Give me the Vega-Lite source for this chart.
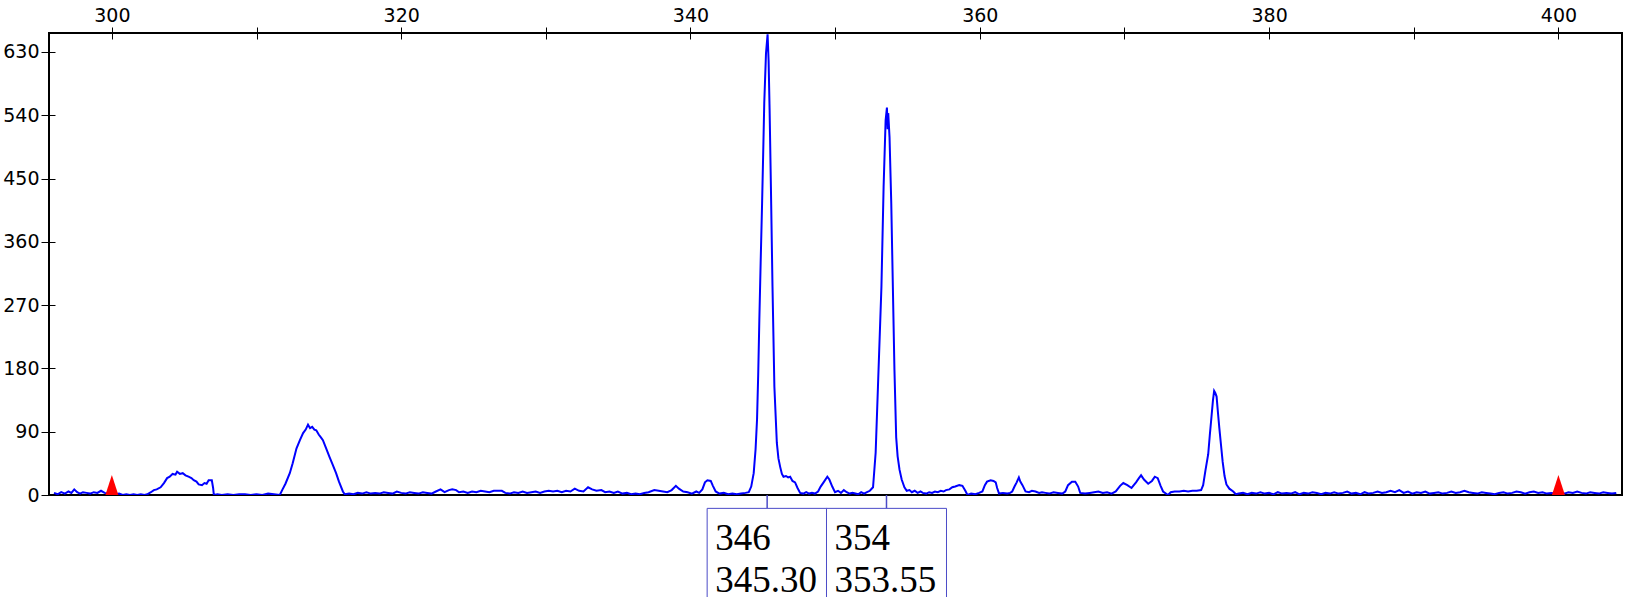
{
  "$schema": "https://vega.github.io/schema/vega-lite/v6.json",
  "width": 1573,
  "height": 462,
  "autosize": "none",
  "padding": {"left": 49, "top": 33, "right": 11, "bottom": 102},
  "background": "white",
  "config": {
    "view": {"stroke": "black", "strokeWidth": 2},
    "axis": {"grid": false, "domain": false, "labelFont": "DejaVu Sans", "labelFontSize": 19, "labelColor": "black", "labelFlush": false, "labelOverlap": false, "title": null}
  },
  "datasets": {
    "trace": [
      {"x":296.0,"y":3},{"x":296.25,"y":1},{"x":296.5,"y":4},{"x":296.75,"y":2},{"x":297.0,"y":5},{"x":297.2,"y":3},{"x":297.4,"y":8},{"x":297.6,"y":4},{"x":297.8,"y":2},{"x":298.0,"y":4},{"x":298.25,"y":3},{"x":298.5,"y":2},{"x":298.75,"y":4},{"x":299.0,"y":3},{"x":299.25,"y":6},{"x":299.5,"y":3},{"x":299.75,"y":2},{"x":300.0,"y":3},{"x":300.25,"y":1},{"x":300.5,"y":2},{"x":300.75,"y":0},{"x":301.0,"y":1},{"x":301.25,"y":0},{"x":301.5,"y":1},{"x":301.75,"y":0},{"x":302.0,"y":1},{"x":302.25,"y":0},{"x":302.45,"y":1},
      {"x":302.7,"y":4},{"x":302.9,"y":7},{"x":303.1,"y":8},{"x":303.37,"y":11},{"x":303.6,"y":17},{"x":303.82,"y":24},{"x":304.0,"y":26},{"x":304.2,"y":30},{"x":304.4,"y":29},{"x":304.51,"y":33},{"x":304.7,"y":30},{"x":304.9,"y":31},{"x":305.09,"y":28},{"x":305.3,"y":26},{"x":305.5,"y":24},{"x":305.66,"y":21},{"x":305.85,"y":19},{"x":306.0,"y":15},{"x":306.23,"y":14},{"x":306.4,"y":17},{"x":306.55,"y":16},{"x":306.69,"y":21},{"x":306.91,"y":21},{"x":307.0,"y":10},{"x":307.05,"y":0},{"x":307.3,"y":1},{"x":307.6,"y":0},{"x":308.0,"y":1},{"x":308.4,"y":0},{"x":308.8,"y":1},{"x":309.2,"y":1},{"x":309.6,"y":0},{"x":310.0,"y":1},{"x":310.4,"y":0},{"x":310.8,"y":2},{"x":311.2,"y":1},{"x":311.61,"y":0},
      {"x":311.8,"y":8},{"x":312.0,"y":16},{"x":312.3,"y":31},{"x":312.5,"y":45},{"x":312.76,"y":66},{"x":313.0,"y":78},{"x":313.22,"y":88},{"x":313.4,"y":93},{"x":313.56,"y":100},{"x":313.7,"y":95},{"x":313.85,"y":97},{"x":314.0,"y":93},{"x":314.13,"y":92},{"x":314.3,"y":86},{"x":314.45,"y":82},{"x":314.59,"y":78},{"x":314.8,"y":67},{"x":315.05,"y":54},{"x":315.25,"y":44},{"x":315.5,"y":31},{"x":315.7,"y":19},{"x":315.97,"y":5},{"x":316.1,"y":1},{"x":316.4,"y":2},{"x":316.7,"y":1},{"x":317.0,"y":3},{"x":317.3,"y":2},{"x":317.6,"y":4},{"x":317.9,"y":2},{"x":318.2,"y":3},{"x":318.5,"y":2},{"x":318.8,"y":4},{"x":319.1,"y":3},{"x":319.4,"y":2},{"x":319.7,"y":5},{"x":320.0,"y":3},{"x":320.3,"y":2},{"x":320.6,"y":4},{"x":320.9,"y":3},{"x":321.2,"y":2},{"x":321.5,"y":4},{"x":321.8,"y":3},
      {"x":322.1,"y":2},{"x":322.4,"y":5},{"x":322.72,"y":8},{"x":323.0,"y":4},{"x":323.3,"y":7},{"x":323.53,"y":8},{"x":323.8,"y":7},{"x":324.0,"y":4},{"x":324.3,"y":5},{"x":324.6,"y":3},{"x":324.9,"y":5},{"x":325.2,"y":4},{"x":325.5,"y":6},{"x":325.8,"y":5},{"x":326.1,"y":4},{"x":326.4,"y":6},{"x":326.7,"y":6},{"x":326.96,"y":6},{"x":327.2,"y":3},{"x":327.5,"y":2},{"x":327.8,"y":4},{"x":328.1,"y":3},{"x":328.4,"y":5},{"x":328.7,"y":3},{"x":329.0,"y":4},{"x":329.3,"y":5},{"x":329.6,"y":3},{"x":329.9,"y":5},{"x":330.2,"y":6},{"x":330.5,"y":5},{"x":330.8,"y":6},{"x":331.1,"y":4},{"x":331.4,"y":6},{"x":331.7,"y":5},{"x":332.0,"y":9},{"x":332.3,"y":6},{"x":332.6,"y":5},{"x":332.92,"y":11},{"x":333.2,"y":8},{"x":333.5,"y":6},{"x":333.84,"y":7},{"x":334.1,"y":4},{"x":334.4,"y":5},{"x":334.7,"y":3},{"x":334.98,"y":5},{"x":335.3,"y":2},{"x":335.6,"y":3},{"x":335.9,"y":1},{"x":336.2,"y":2},{"x":336.5,"y":1},{"x":336.8,"y":3},{"x":337.1,"y":4},{"x":337.5,"y":7},{"x":337.8,"y":6},{"x":338.1,"y":5},{"x":338.4,"y":4},{"x":338.7,"y":7},{"x":338.99,"y":13},{"x":339.2,"y":9},{"x":339.5,"y":5},{"x":339.8,"y":4},{"x":340.1,"y":2},{"x":340.4,"y":5},{"x":340.6,"y":3},{"x":340.82,"y":8},{"x":341.0,"y":18},{"x":341.17,"y":21},{"x":341.4,"y":20},{"x":341.55,"y":13},{"x":341.74,"y":5},{"x":342.0,"y":2},{"x":342.3,"y":3},{"x":342.6,"y":1},{"x":342.9,"y":2},{"x":343.2,"y":1},{"x":343.5,"y":2},{"x":343.8,"y":3},{"x":344.03,"y":4},
      {"x":344.2,"y":12},{"x":344.37,"y":31},{"x":344.5,"y":65},{"x":344.6,"y":107},{"x":344.68,"y":170},{"x":344.76,"y":249},{"x":344.85,"y":330},{"x":344.95,"y":415},{"x":345.02,"y":480},{"x":345.1,"y":557},{"x":345.22,"y":628},{"x":345.33,"y":655},{"x":345.4,"y":618},{"x":345.47,"y":547},{"x":345.56,"y":438},{"x":345.67,"y":296},{"x":345.8,"y":154},{"x":345.97,"y":74},{"x":346.08,"y":52},{"x":346.2,"y":40},{"x":346.32,"y":30},{"x":346.43,"y":26},{"x":346.6,"y":27},{"x":346.75,"y":25},{"x":346.89,"y":26},{"x":347.05,"y":20},{"x":347.23,"y":18},{"x":347.4,"y":10},{"x":347.58,"y":3},{"x":347.8,"y":2},{"x":348.0,"y":4},{"x":348.2,"y":2},{"x":348.4,"y":3},{"x":348.6,"y":2},{"x":348.82,"y":5},{"x":349.0,"y":12},{"x":349.2,"y":18},{"x":349.46,"y":26},{"x":349.6,"y":22},{"x":349.8,"y":12},{"x":349.99,"y":4},{"x":350.2,"y":6},{"x":350.4,"y":3},{"x":350.6,"y":7},{"x":350.8,"y":4},{"x":351.0,"y":2},{"x":351.2,"y":3},{"x":351.4,"y":2},{"x":351.6,"y":1},{"x":351.8,"y":4},{"x":352.0,"y":2},{"x":352.2,"y":4},{"x":352.4,"y":6},{"x":352.62,"y":11},
      {"x":352.8,"y":60},{"x":352.96,"y":154},{"x":353.08,"y":225},{"x":353.2,"y":296},{"x":353.35,"y":438},{"x":353.49,"y":533},{"x":353.58,"y":551},{"x":353.63,"y":520},{"x":353.67,"y":543},{"x":353.76,"y":509},{"x":353.88,"y":415},{"x":353.99,"y":296},{"x":354.1,"y":178},{"x":354.22,"y":82},{"x":354.32,"y":55},{"x":354.45,"y":36},{"x":354.6,"y":22},{"x":354.79,"y":11},{"x":354.95,"y":6},{"x":355.14,"y":7},{"x":355.3,"y":4},{"x":355.5,"y":6},{"x":355.7,"y":3},{"x":355.9,"y":5},{"x":356.06,"y":3},{"x":356.3,"y":2},{"x":356.5,"y":4},{"x":356.7,"y":3},{"x":356.9,"y":5},{"x":357.1,"y":4},{"x":357.3,"y":6},{"x":357.5,"y":5},{"x":357.66,"y":7},{"x":357.9,"y":8},{"x":358.1,"y":11},{"x":358.3,"y":12},{"x":358.58,"y":14},{"x":358.8,"y":13},{"x":359.0,"y":6},{"x":359.15,"y":0},{"x":359.4,"y":2},{"x":359.7,"y":1},{"x":359.95,"y":3},{"x":360.18,"y":5},{"x":360.35,"y":14},{"x":360.5,"y":19},{"x":360.75,"y":21},{"x":360.95,"y":20},{"x":361.1,"y":18},{"x":361.2,"y":10},{"x":361.33,"y":2},{"x":361.6,"y":3},{"x":361.9,"y":2},{"x":362.1,"y":3},{"x":362.24,"y":5},{"x":362.4,"y":12},{"x":362.55,"y":18},{"x":362.7,"y":25},{"x":362.8,"y":19},{"x":362.95,"y":14},{"x":363.16,"y":5},{"x":363.4,"y":4},{"x":363.6,"y":6},{"x":363.85,"y":5},{"x":364.1,"y":3},{"x":364.3,"y":4},{"x":364.54,"y":3},{"x":364.8,"y":2},{"x":365.1,"y":4},{"x":365.4,"y":3},{"x":365.7,"y":2},{"x":365.91,"y":5},{"x":366.1,"y":14},{"x":366.37,"y":19},{"x":366.6,"y":19},{"x":366.8,"y":12},{"x":366.94,"y":3},{"x":367.28,"y":2},{"x":367.6,"y":3},{"x":367.9,"y":4},{"x":368.2,"y":5},{"x":368.5,"y":3},{"x":368.8,"y":4},{"x":369.11,"y":2},{"x":369.4,"y":5},{"x":369.7,"y":13},{"x":369.92,"y":17},{"x":370.2,"y":14},{"x":370.49,"y":10},{"x":370.8,"y":18},{"x":371.0,"y":24},{"x":371.15,"y":28},{"x":371.35,"y":22},{"x":371.64,"y":16},{"x":371.9,"y":20},{"x":372.1,"y":26},{"x":372.3,"y":24},{"x":372.5,"y":13},{"x":372.67,"y":5},{"x":373.01,"y":0},{"x":373.2,"y":4},{"x":373.47,"y":5},{"x":373.8,"y":5},{"x":374.1,"y":6},{"x":374.4,"y":5},{"x":374.7,"y":6},{"x":375.0,"y":6},{"x":375.3,"y":7},{"x":375.44,"y":14},
      {"x":375.6,"y":35},{"x":375.79,"y":58},{"x":375.9,"y":85},{"x":376.02,"y":112},{"x":376.12,"y":135},{"x":376.2,"y":148},{"x":376.28,"y":145},{"x":376.37,"y":140},{"x":376.46,"y":118},{"x":376.56,"y":95},{"x":376.68,"y":70},{"x":376.79,"y":47},{"x":376.92,"y":27},{"x":377.05,"y":15},{"x":377.25,"y":9},{"x":377.52,"y":5},{"x":377.7,"y":1},{"x":377.9,"y":2},
      {"x":378.2,"y":3},{"x":378.5,"y":1},{"x":378.8,"y":3},{"x":379.1,"y":2},{"x":379.4,"y":4},{"x":379.7,"y":2},{"x":380.0,"y":3},{"x":380.3,"y":1},{"x":380.6,"y":4},{"x":380.9,"y":2},{"x":381.2,"y":3},{"x":381.5,"y":2},{"x":381.8,"y":4},{"x":382.1,"y":1},{"x":382.4,"y":3},{"x":382.7,"y":2},{"x":383.0,"y":4},{"x":383.3,"y":3},{"x":383.6,"y":1},{"x":383.9,"y":3},{"x":384.2,"y":2},{"x":384.5,"y":4},{"x":384.8,"y":2},{"x":385.1,"y":3},{"x":385.4,"y":5},{"x":385.7,"y":2},{"x":386.0,"y":3},{"x":386.3,"y":1},{"x":386.6,"y":4},{"x":386.9,"y":2},{"x":387.2,"y":3},{"x":387.5,"y":5},{"x":387.8,"y":3},{"x":388.1,"y":4},{"x":388.4,"y":6},{"x":388.7,"y":4},{"x":389.0,"y":7},{"x":389.3,"y":3},{"x":389.6,"y":5},{"x":389.9,"y":2},{"x":390.2,"y":4},{"x":390.5,"y":3},{"x":390.8,"y":5},{"x":391.1,"y":2},{"x":391.4,"y":3},{"x":391.7,"y":4},{"x":392.0,"y":2},{"x":392.3,"y":3},{"x":392.6,"y":5},{"x":392.9,"y":3},{"x":393.2,"y":4},{"x":393.5,"y":6},{"x":393.8,"y":4},{"x":394.1,"y":3},{"x":394.4,"y":2},{"x":394.7,"y":4},{"x":395.0,"y":3},{"x":395.3,"y":2},{"x":395.6,"y":1},{"x":395.9,"y":3},{"x":396.2,"y":4},{"x":396.5,"y":2},{"x":396.8,"y":3},{"x":397.1,"y":5},{"x":397.4,"y":4},{"x":397.7,"y":2},{"x":398.0,"y":4},{"x":398.3,"y":5},{"x":398.6,"y":3},{"x":398.9,"y":4},{"x":399.2,"y":2},{"x":399.5,"y":3},{"x":399.8,"y":2},{"x":400.1,"y":3},{"x":400.4,"y":2},{"x":400.7,"y":4},{"x":401.0,"y":3},{"x":401.3,"y":5},{"x":401.6,"y":3},{"x":401.9,"y":2},{"x":402.2,"y":4},{"x":402.5,"y":3},{"x":402.8,"y":2},{"x":403.1,"y":4},{"x":403.4,"y":3},{"x":403.7,"y":2},{"x":404.0,"y":3}
    ],
    "ladder": [{"x": 300}, {"x": 400}],
    "peaks": [
      {"size": 345.30, "allele": "346", "label": "345.30"},
      {"size": 353.55, "allele": "354", "label": "353.55"}
    ]
  },
  "layer": [
    {
      "data": {"name": "trace"},
      "mark": {"type": "line", "color": "#0000ff", "strokeWidth": 2, "clip": true},
      "encoding": {
        "x": {
          "field": "x", "type": "quantitative",
          "scale": {"domain": [296, 404.05], "nice": false, "zero": false},
          "axis": {
            "orient": "top",
            "values": [300, 310, 320, 330, 340, 350, 360, 370, 380, 390, 400],
            "labelExpr": "datum.value % 20 === 0 ? datum.label : ''",
            "tickSize": 12, "offset": -6, "labelPadding": 2,
            "tickColor": "black", "tickWidth": 1
          }
        },
        "y": {
          "field": "y", "type": "quantitative",
          "scale": {"domain": [0, 657], "nice": false},
          "axis": {
            "orient": "left",
            "values": [0, 45, 90, 135, 180, 225, 270, 315, 360, 405, 450, 495, 540, 585, 630],
            "labelExpr": "datum.value % 90 === 0 ? datum.label : ''",
            "tickSize": 14, "offset": -6, "labelPadding": 2,
            "tickColor": {"condition": {"test": "datum.value % 90 === 0", "value": "black"}, "value": "#999999"},
            "tickWidth": 1
          }
        }
      }
    },
    {
      "data": {"name": "ladder"},
      "mark": {"type": "point", "shape": "M0,-2L0.65,0L-0.65,0Z", "size": 400, "filled": true, "color": "#ff0000", "opacity": 1, "strokeWidth": 0},
      "encoding": {
        "x": {"field": "x", "type": "quantitative"},
        "y": {"datum": 0}
      }
    },
    {
      "data": {"name": "peaks"},
      "mark": {"type": "rule", "color": "#4b4bc8", "strokeWidth": 1.5, "clip": false},
      "encoding": {
        "x": {"field": "size", "type": "quantitative"},
        "y": {"datum": 0},
        "y2": {"datum": -19}
      }
    },
    {
      "data": {"name": "peaks"},
      "mark": {"type": "bar", "width": 120, "fill": "white", "stroke": "#4b4bc8", "strokeWidth": 1, "clip": false},
      "encoding": {
        "x": {"field": "size", "type": "quantitative"},
        "y": {"datum": -19},
        "y2": {"datum": -220}
      }
    },
    {
      "data": {"name": "peaks"},
      "mark": {"type": "text", "font": "Liberation Serif", "fontSize": 37, "align": "left", "baseline": "alphabetic", "dx": -52, "color": "black", "clip": false},
      "encoding": {
        "x": {"field": "size", "type": "quantitative"},
        "y": {"datum": -78.2},
        "text": {"field": "allele", "type": "nominal"}
      }
    },
    {
      "data": {"name": "peaks"},
      "mark": {"type": "text", "font": "Liberation Serif", "fontSize": 37, "align": "left", "baseline": "alphabetic", "dx": -52, "color": "black", "clip": false},
      "encoding": {
        "x": {"field": "size", "type": "quantitative"},
        "y": {"datum": -137.5},
        "text": {"field": "label", "type": "nominal"}
      }
    }
  ]
}
